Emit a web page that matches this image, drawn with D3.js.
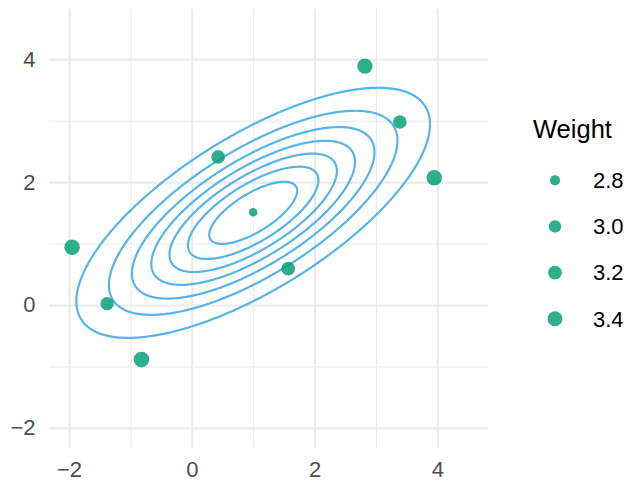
<!DOCTYPE html>
<html><head><meta charset="utf-8">
<script src="https://cdn.jsdelivr.net/npm/d3@7"></script>
<style>body{margin:0;background:#fff}svg{display:block}</style>
</head><body>
<script>
// ---- data ----
const xDomain = [-2.325, 4.825];
const yDomain = [-2.325, 4.825];
const majorTicks = [-2, 0, 2, 4];
const minorTicks = [-1, 1, 3];
const pointX = [2.82, 3.39, 3.95, 0.43, 1.00, -1.95, -1.38, 1.57, -0.82];
const pointY = [3.89, 2.98, 2.07, 2.41, 1.51, 0.94, 0.02, 0.59, -0.89];
const pointWeight = [3.50, 3.15, 3.52, 3.17, 2.76, 3.55, 3.12, 3.20, 3.55];
const legendWeights = [2.8, 3.0, 3.2, 3.4];
const legendTitle = "Weight";
const densityMean = [1, 1.5];
const densityCov = [[2, 1], [1, 1]];
const contourLevels = [0.02, 0.04, 0.06, 0.08, 0.10, 0.12, 0.14];

// ---- layout ----
const W = 630, H = 482;
const panel = {left: 49.05, right: 488, top: 8.65, bottom: 447.7};
const font = "'Liberation Sans', Arial, Helvetica, sans-serif";
const pointColor = "#009E73", pointOpacity = 0.82;
const lineColor = "#56B4E9";
const gridColor = "#EBEBEB";

const svg = d3.select("body").append("svg").attr("width", W).attr("height", H);

const x = d3.scaleLinear().domain(xDomain).range([panel.left, panel.right]);
const y = d3.scaleLinear().domain(yDomain).range([panel.bottom, panel.top]);
const wMin = d3.min(pointWeight), wMax = d3.max(pointWeight);
const rScale = d3.scaleSqrt().domain([0, wMax - wMin]).range([4.3, 7.8]);
const radius = w => rScale(Math.max(0, w - wMin));

// ---- grid ----
const g = svg.append("g");
const pw = panel.right - panel.left, ph = panel.bottom - panel.top;
function grid(ticks, width) {
  g.append("g").attr("transform", `translate(0,${panel.bottom})`)
    .call(d3.axisBottom(x).tickValues(ticks).tickSize(-ph).tickFormat(""))
    .call(a => a.select(".domain").remove())
    .selectAll("line").attr("stroke", gridColor).attr("stroke-width", width);
  g.append("g").attr("transform", `translate(${panel.left},0)`)
    .call(d3.axisLeft(y).tickValues(ticks).tickSize(-pw).tickFormat(""))
    .call(a => a.select(".domain").remove())
    .selectAll("line").attr("stroke", gridColor).attr("stroke-width", width);
}
grid(minorTicks, 1.1);
grid(majorTicks, 2.1);

// ---- density contours ----
const step = 0.02;
const gx0 = xDomain[0], gy0 = yDomain[0];
const nx = Math.ceil((xDomain[1] - xDomain[0]) / step) + 1;
const ny = Math.ceil((yDomain[1] - yDomain[0]) / step) + 1;
const det = densityCov[0][0] * densityCov[1][1] - densityCov[0][1] * densityCov[1][0];
const inv = [[densityCov[1][1] / det, -densityCov[0][1] / det], [-densityCov[1][0] / det, densityCov[0][0] / det]];
const norm = 1 / (2 * Math.PI * Math.sqrt(det));
const values = new Float64Array(nx * ny);
for (let j = 0; j < ny; j++) {
  for (let i = 0; i < nx; i++) {
    const dx = gx0 + i * step - densityMean[0], dy = gy0 + j * step - densityMean[1];
    const q = dx * (inv[0][0] * dx + inv[0][1] * dy) + dy * (inv[1][0] * dx + inv[1][1] * dy);
    values[j * nx + i] = norm * Math.exp(-0.5 * q);
  }
}
const contours = d3.contours().size([nx, ny]).thresholds(contourLevels)(values);
const path = d3.geoPath(d3.geoTransform({
  point: function(cx, cy) { this.stream.point(x(gx0 + (cx - 0.5) * step), y(gy0 + (cy - 0.5) * step)); }
}));
svg.append("g").selectAll("path").data(contours).join("path")
  .attr("d", path).attr("fill", "none").attr("stroke", lineColor)
  .attr("stroke-width", 2.2).attr("stroke-linejoin", "round");

// ---- points ----
svg.append("g").selectAll("circle").data(pointX.map((d, i) => i)).join("circle")
  .attr("cx", i => x(pointX[i])).attr("cy", i => y(pointY[i]))
  .attr("r", i => radius(pointWeight[i]))
  .attr("fill", pointColor).attr("fill-opacity", pointOpacity);

// ---- axes labels ----
const fmt = d3.format("d");
const xa = svg.append("g").attr("transform", `translate(0,${panel.bottom})`)
  .call(d3.axisBottom(x).tickValues(majorTicks).tickSize(0).tickPadding(14).tickFormat(fmt));
xa.select(".domain").remove();
xa.selectAll("text").attr("font-family", font).attr("font-size", 22).attr("fill", "#4D4D4D");
const ya = svg.append("g").attr("transform", `translate(${panel.left},0)`)
  .call(d3.axisLeft(y).tickValues(majorTicks).tickSize(0).tickPadding(13.5).tickFormat(fmt));
ya.select(".domain").remove();
ya.selectAll("text").attr("font-family", font).attr("font-size", 22).attr("fill", "#4D4D4D");

// ---- legend ----
const leg = svg.append("g");
leg.append("text").attr("x", 533).attr("y", 138).text(legendTitle)
  .attr("font-family", font).attr("font-size", 25.5).attr("fill", "#000");
const legY = d3.scalePoint().domain(legendWeights).range([180.3, 318.7]);
leg.selectAll("circle").data(legendWeights).join("circle")
  .attr("cx", 555).attr("cy", d => legY(d)).attr("r", d => radius(d))
  .attr("fill", pointColor).attr("fill-opacity", pointOpacity);
leg.selectAll("text.lab").data(legendWeights).join("text").attr("class", "lab")
  .attr("x", 593).attr("y", d => legY(d)).attr("dy", "0.36em")
  .text(d => d3.format(".1f")(d))
  .attr("font-family", font).attr("font-size", 22).attr("fill", "#000");
</script>
</body></html>
